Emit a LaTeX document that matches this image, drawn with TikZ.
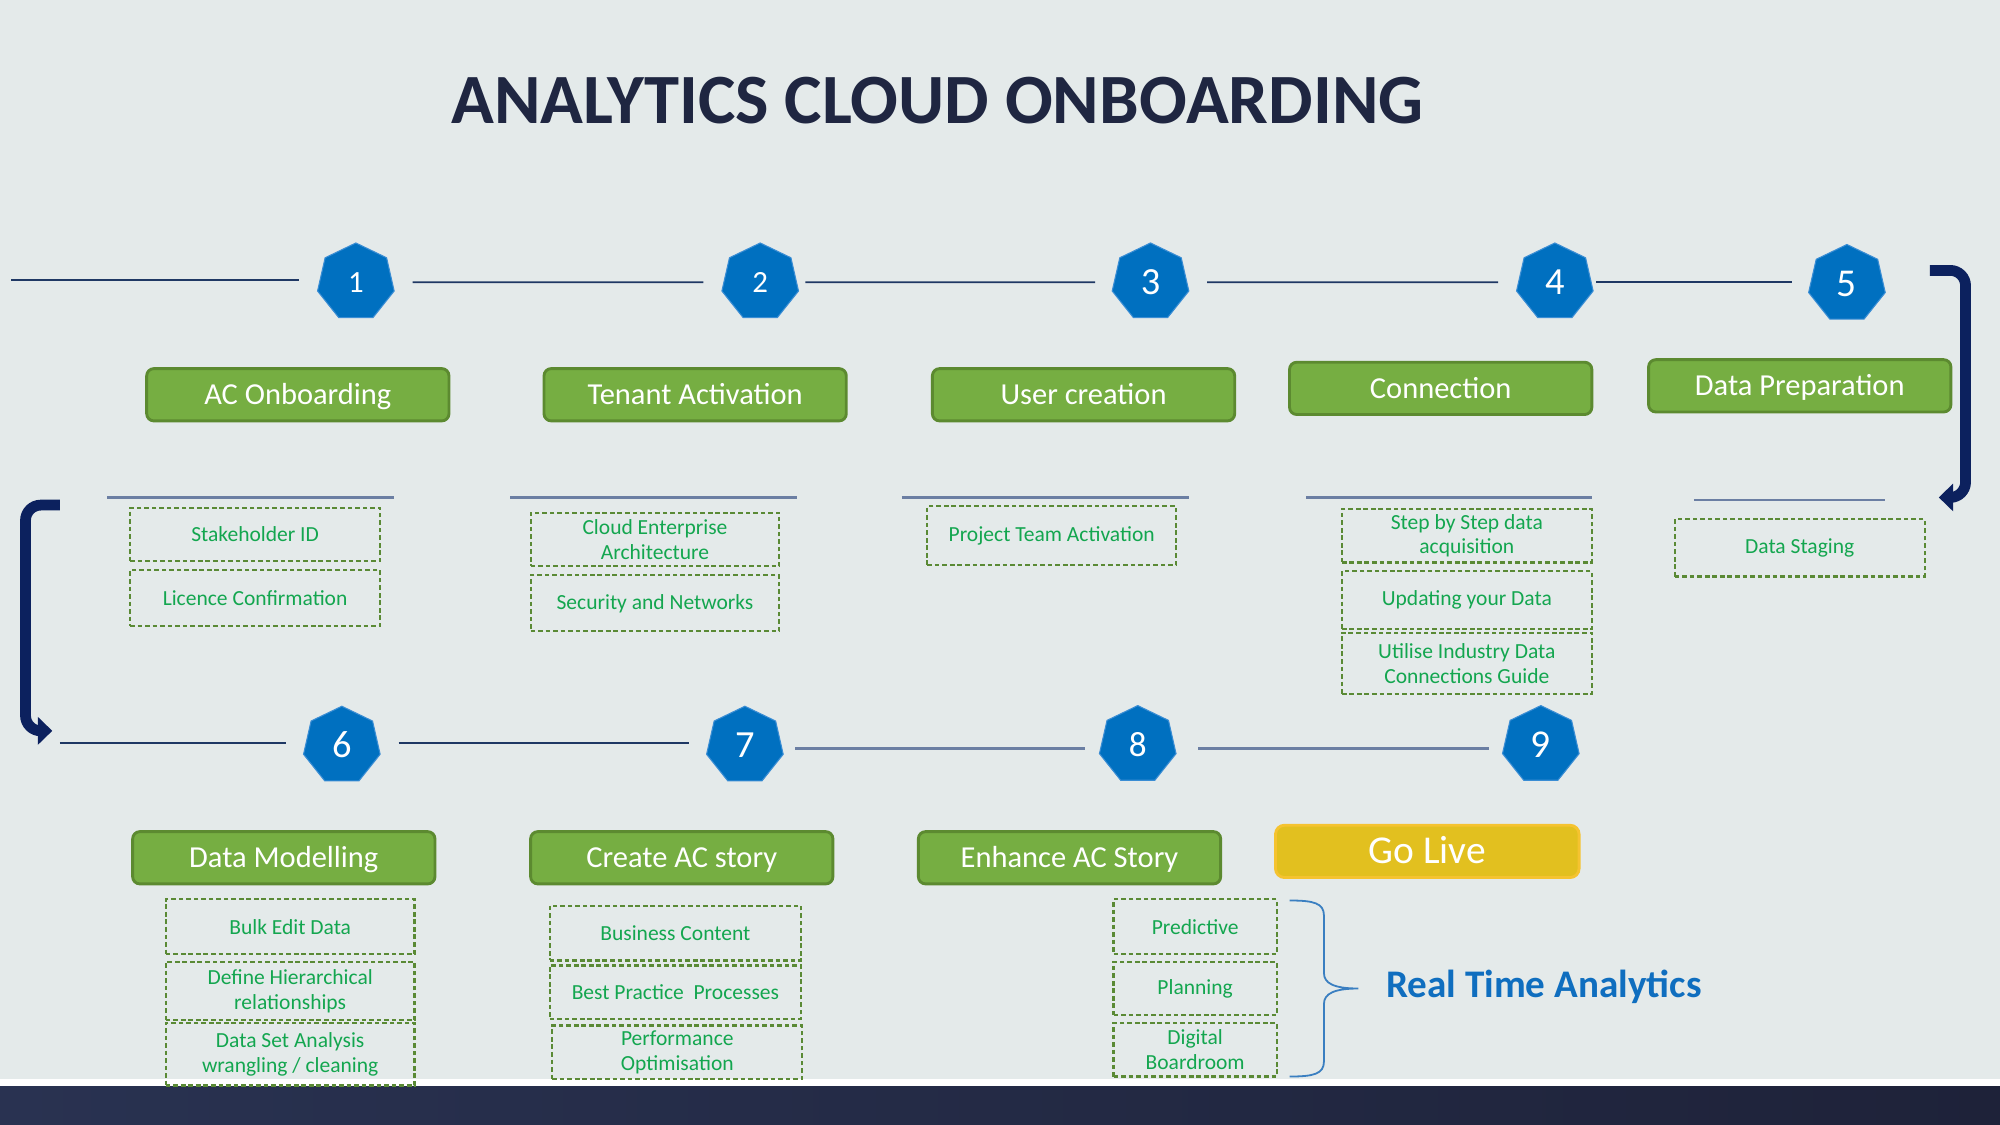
\documentclass[tikz,border=0pt]{standalone}
\usepackage{fontspec}
\setmainfont{Carlito}
\usetikzlibrary{shapes.geometric,arrows.meta}
\newlength{\uu}\setlength{\uu}{0.0125cm}
\definecolor{bgc}{HTML}{E4EAEA}
\definecolor{titlec}{HTML}{1F2641}
\definecolor{navyl}{HTML}{1F3864}
\definecolor{greyb}{HTML}{6B7FA3}
\definecolor{hblue}{HTML}{0070C0}
\definecolor{hbord}{HTML}{3A8DD4}
\definecolor{gfill}{HTML}{76AE42}
\definecolor{gbord}{HTML}{5C8A30}
\definecolor{gold}{HTML}{E2C01F}
\definecolor{goldb}{HTML}{F5C330}
\definecolor{dbord}{HTML}{5A8A35}
\definecolor{dtext}{HTML}{13A64F}
\definecolor{bracec}{HTML}{3A7FC1}
\definecolor{rta}{HTML}{0F6EBF}
\definecolor{arrc}{HTML}{0C215E}
\definecolor{banda}{HTML}{293251}
\definecolor{bandb}{HTML}{1E2239}
\begin{document}
\begin{tikzpicture}[x=0.0125cm,y=-0.0125cm,
  gbox/.style={rectangle, rounded corners=2pt, fill=gfill, draw=gbord, line width=0.8pt,
    minimum width=237\uu, minimum height=41\uu, inner sep=0pt, text=white,
    font=\fontsize{8.5}{10}\selectfont, text height=5.4pt, text depth=0pt},
  golivebox/.style={rectangle, rounded corners=2.5pt, fill=gold, draw=goldb, line width=0.8pt,
    minimum width=238\uu, minimum height=41\uu, inner sep=0pt, text=white,
    font=\fontsize{11}{12}\selectfont, text height=6.9pt, text depth=0pt},
  dbox/.style={rectangle, draw=dbord, line width=0.6pt, dash pattern=on 1.3pt off 0.8pt,
    inner sep=0pt, text=dtext, align=center, font=\fontsize{6}{6.9}\selectfont},
  hept/.style={regular polygon, regular polygon sides=7, minimum size=61.6\uu,
    inner sep=0pt, outer sep=0pt, fill=hblue, draw=hbord, line width=0.3pt, text=white},
  conn/.style={draw=navyl, line width=0.5pt},
  conn2/.style={draw=greyb, line width=0.7pt},
  uline/.style={draw=greyb, line width=0.7pt},
  bigarrow/.style={draw=arrc, line width=3pt, -{Triangle[length=4pt,width=7.5pt]}}
]
% background
\fill[bgc] (0,0) rectangle (1568,882);
\fill[white] (0,846) rectangle (1568,852);
\shade[left color=banda, right color=bandb] (0,852) rectangle (1568,882);

% title
\node[anchor=base, text=titlec, font=\fontsize{19.7}{22}\selectfont\bfseries, inner sep=0pt] (title) at (735,96.5) {ANALYTICS CLOUD ONBOARDING};

% heptagons
\node[hept, font=\fontsize{8.6}{9}\selectfont] (h1) at (279,221.3) {\raisebox{-1.4\uu}{1}};
\node[hept, font=\fontsize{8.6}{9}\selectfont] (h2) at (596,221.3) {\raisebox{-1\uu}{2}};
\node[hept, font=\fontsize{10.7}{11}\selectfont] (h3) at (902,221.3) {\raisebox{-4\uu}{3}};
\node[hept, font=\fontsize{10.7}{11}\selectfont] (h4) at (1219,221.3) {\raisebox{-4\uu}{4}};
\node[hept, font=\fontsize{11}{11}\selectfont] (h5) at (1448,222.5) {\raisebox{-4.5\uu}{5}};
\node[hept, font=\fontsize{10.7}{11}\selectfont] (h6) at (268,584.5) {\raisebox{1.5\uu}{6}};
\node[hept, font=\fontsize{10.7}{11}\selectfont] (h7) at (584,584.5) {\raisebox{-3.5\uu}{7}};
\node[hept, font=\fontsize{9.8}{10}\selectfont] (h8) at (892,584) {\raisebox{1\uu}{8}};
\node[hept, font=\fontsize{11}{11}\selectfont] (h9) at (1208,584) {\raisebox{-4.4\uu}{9}};

% top connectors
\coordinate (L0) at (9,219.5);
\draw[conn, shorten >=16\uu] (L0) -- (L0 -| h1.west);
\draw[conn, shorten <=16\uu, shorten >=16\uu] (h1.east) -- (h2.west);
\draw[conn, shorten <=7\uu, shorten >=15\uu] (h2.east) -- (h3.west);
\draw[conn, shorten <=16\uu, shorten >=16\uu] (h3.east) -- (h4.west);
\draw[conn, shorten <=4\uu, shorten >=15\uu] (h4.east) -- (h4.east -| h5.west);

% bottom connectors
\coordinate (L6) at (47,582.5);
\draw[conn, shorten >=15\uu] (L6) -- (L6 -| h6.west);
\draw[conn, shorten <=16\uu, shorten >=15\uu] ([yshift=2\uu]h6.east) -- ([yshift=2\uu]h6.east -| h7.west);
\draw[conn2, shorten <=11\uu, shorten >=13\uu] ([yshift=-2.5\uu]h7.east) -- ([yshift=-2.5\uu]h7.east -| h8.west);
\draw[conn2, shorten <=19\uu, shorten >=12\uu] ([yshift=-3\uu]h8.east) -- ([yshift=-3\uu]h8.east -| h9.west);

% green step boxes
\node[gbox] (g1) at (233.5,309.5) {AC Onboarding};
\node[gbox] (g2) at (545,309.5) {Tenant Activation};
\node[gbox] (g3) at (849.5,309.5) {User creation};
\node[gbox] (g4) at (1129.5,304.5) {Connection};
\node[gbox] (g5) at (1411,302.5) {Data Preparation};
\node[gbox] (g6) at (222.5,672.5) {Data Modelling};
\node[gbox] (g7) at (534.5,672.5) {Create AC story};
\node[gbox] (g8) at (838.5,672.5) {Enhance AC Story};
\node[golivebox] (g9) at (1119,667.5) {Go Live};

% underlines
\draw[uline] (84,390) -- (309,390);
\draw[uline] (400,390) -- (625,390);
\draw[uline] (707,390) -- (932,390);
\draw[uline] (1024,390) -- (1248,390);
\draw[uline] (1328,392) -- (1478,392);

% dashed boxes
\node[dbox, minimum width=196\uu, minimum height=42\uu] (d1a) at (200,419) {Stakeholder ID};
\node[dbox, minimum width=196\uu, minimum height=44\uu] (d1b) at (200,469) {Licence Confirmation};
\node[dbox, minimum width=195\uu, minimum height=42\uu] (d2a) at (513.5,423) {Cloud Enterprise\\Architecture};
\node[dbox, minimum width=195\uu, minimum height=44\uu] (d2b) at (513.5,473) {Security and Networks};
\node[dbox, minimum width=195\uu, minimum height=46\uu] (d3a) at (824.5,420) {Project Team Activation};
\node[dbox, minimum width=196\uu, minimum height=42\uu] (d4a) at (1150,420) {Step by Step data\\acquisition};
\node[dbox, minimum width=196\uu, minimum height=45\uu] (d4b) at (1150,470.5) {Updating your Data};
\node[dbox, minimum width=196\uu, minimum height=48\uu] (d4c) at (1150,520) {Utilise Industry Data\\Connections Guide};
\node[dbox, minimum width=196\uu, minimum height=45\uu] (d5a) at (1411,429.5) {Data Staging};
\node[dbox, minimum width=195\uu, minimum height=43\uu] (d6a) at (227.5,726.5) {Bulk Edit Data};
\node[dbox, minimum width=195\uu, minimum height=46\uu] (d6b) at (227.5,777) {Define Hierarchical\\relationships};
\node[dbox, minimum width=195\uu, minimum height=49\uu] (d6c) at (227.5,826.5) {Data Set Analysis\\wrangling / cleaning};
\node[dbox, minimum width=197\uu, minimum height=43\uu] (d7a) at (529.5,731.5) {Business Content};
\node[dbox, minimum width=197\uu, minimum height=42\uu] (d7b) at (529.5,778) {Best Practice\ \ Processes};
\node[dbox, minimum width=196\uu, minimum height=42\uu] (d7c) at (531,825) {Performance\\Optimisation};
\node[dbox, minimum width=128\uu, minimum height=43\uu] (d8a) at (937,726.5) {Predictive};
\node[dbox, minimum width=128\uu, minimum height=42\uu] (d8b) at (937,775) {Planning};
\node[dbox, minimum width=128\uu, minimum height=42\uu] (d8c) at (937,823) {Digital\\Boardroom};

% brace
\draw[bracec, line width=0.5pt] (1011,706) .. controls (1030,706) and (1038,708) .. (1038,718)
  -- (1038,763) .. controls (1038,771) and (1046,775) .. (1065,775)
  .. controls (1046,775) and (1038,779) .. (1038,787)
  -- (1038,832) .. controls (1038,842) and (1030,844) .. (1011,844);
\node[anchor=base, text=rta, font=\fontsize{10.9}{12}\selectfont\bfseries, inner sep=0pt] (rt) at (1210.5,782) {Real Time Analytics};

% bent arrows
\coordinate (ra0) at (1513,212);
\coordinate (ra1) at (1520,390);
\draw[bigarrow, rounded corners=12\uu] (ra0) -- (1541,212) -- (1541,390) -- (ra1);
\coordinate (la0) at (47,396);
\coordinate (la1) at (41,573);
\draw[bigarrow, rounded corners=12\uu] (la0) -- (20,396) -- (20,573) -- (la1);
\end{tikzpicture}
\end{document}
